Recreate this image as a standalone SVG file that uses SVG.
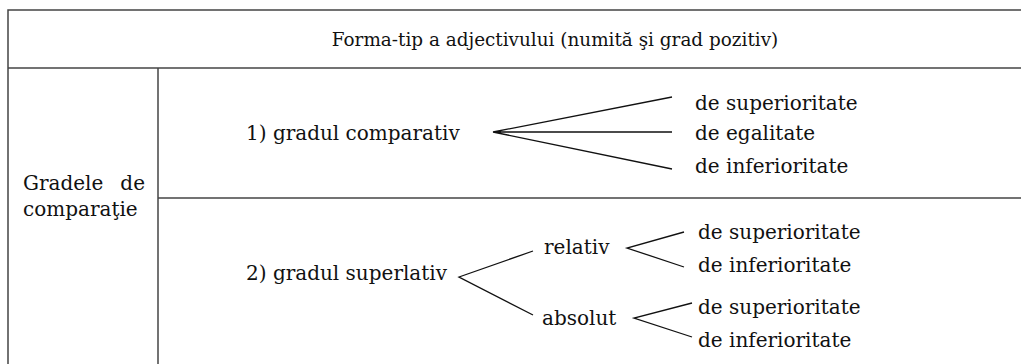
<svg xmlns="http://www.w3.org/2000/svg" width="1021" height="364" viewBox="0 0 1021 364">
<style>
.t{font-family:"DejaVu Serif","Liberation Serif",serif;font-size:20px;fill:#111}
.h{font-family:"DejaVu Serif","Liberation Serif",serif;font-size:18.4px;fill:#111}
.b{fill:none;stroke:#444;stroke-width:1.5}
.c{fill:none;stroke:#111;stroke-width:1.3}
</style>
<rect width="1021" height="364" fill="#fff"/>
<g id="table">
<rect class="b" x="8" y="10" width="1030" height="370"/>
<line class="b" x1="8" y1="68" x2="1030" y2="68"/>
<line class="b" x1="158" y1="68" x2="158" y2="370"/>
<line class="b" x1="158" y1="198" x2="1030" y2="198"/>
</g>
<g id="header"><text class="h" x="555" y="46" text-anchor="middle">Forma-tip a adjectivului (numită şi grad pozitiv)</text></g>
<g id="gradele">
<text class="t" x="23" y="190">Gradele</text>
<text class="t" x="145" y="190" text-anchor="end">de</text>
<text class="t" x="23" y="216">comparaţie</text>
</g>
<g id="comparativ"><text class="t" x="246" y="140">1) gradul comparativ</text></g>
<g id="comp-sup"><text class="t" x="695" y="110">de superioritate</text></g>
<g id="comp-egal"><text class="t" x="695" y="140">de egalitate</text></g>
<g id="comp-inf"><text class="t" x="695" y="173">de inferioritate</text></g>
<g id="superlativ"><text class="t" x="246" y="280">2) gradul superlativ</text></g>
<g id="relativ"><text class="t" x="544" y="254">relativ</text></g>
<g id="absolut"><text class="t" x="542" y="325">absolut</text></g>
<g id="rel-sup"><text class="t" x="698" y="239">de superioritate</text></g>
<g id="rel-inf"><text class="t" x="698" y="272">de inferioritate</text></g>
<g id="abs-sup"><text class="t" x="698" y="314">de superioritate</text></g>
<g id="abs-inf"><text class="t" x="698" y="347">de inferioritate</text></g>
<g id="connectors">
<path class="c" d="M672 97 L493 132 L672 132 M493 132 L672 169"/>
<path class="c" d="M533 251 L459 277 L533 315"/>
<path class="c" d="M684 232 L627 248 L684 267"/>
<path class="c" d="M692 303 L634 318 L692 337"/>
</g>
</svg>
